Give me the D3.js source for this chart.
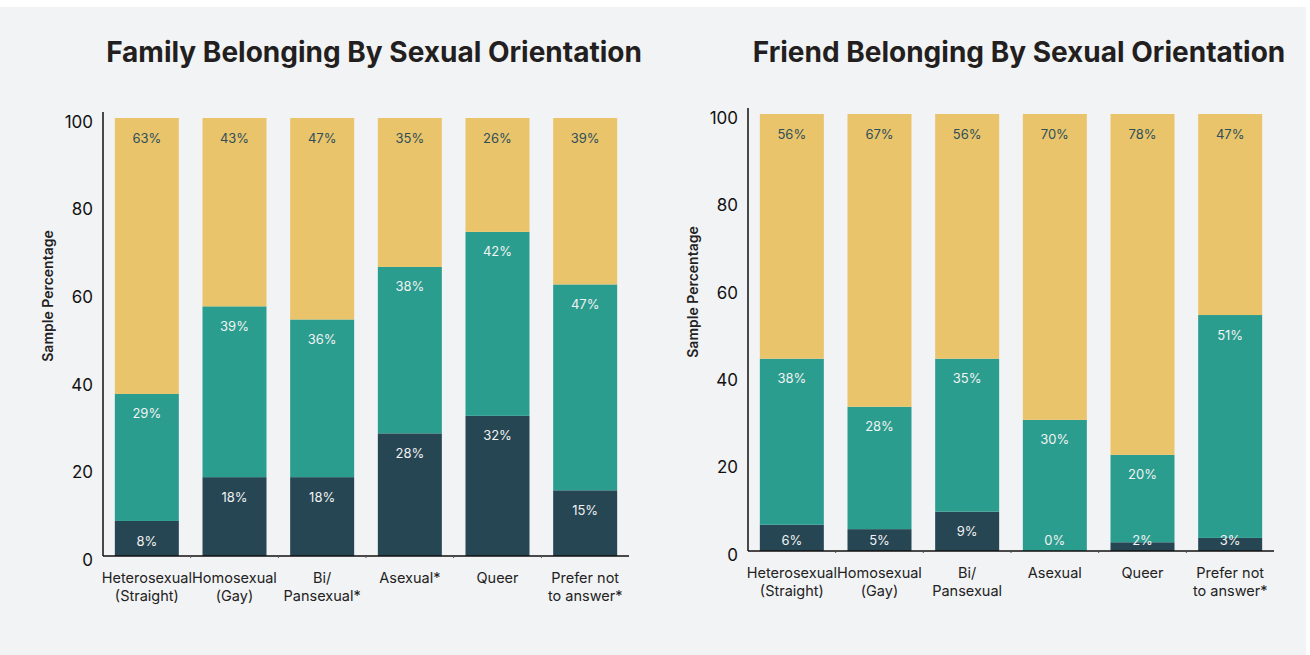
<!DOCTYPE html>
<html>
<head>
<meta charset="utf-8">
<script src="https://cdn.jsdelivr.net/npm/d3@7"></script>
<style>
  body { margin: 0; background: #fff; }
  svg { display: block; font-family: "Inter", "Lato", sans-serif; }
</style>
</head>
<body>
<svg id="chart" width="1310" height="655"></svg>
<script>
(function () {
  // Categories and values.
  let familyCats = ["Heterosexual\n(Straight)", "Homosexual\n(Gay)", "Bi/\nPansexual*", "Asexual*", "Queer", "Prefer not\nto answer*"];
  let familyLow = [8, 18, 18, 28, 32, 15];
  let familyMid = [29, 39, 36, 38, 42, 47];
  let familyHigh = [63, 43, 47, 35, 26, 39];

  let friendCats = ["Heterosexual\n(Straight)", "Homosexual\n(Gay)", "Bi/\nPansexual", "Asexual", "Queer", "Prefer not\nto answer*"];
  let friendLow = [6, 5, 9, 0, 2, 3];
  let friendMid = [38, 28, 35, 30, 20, 51];
  let friendHigh = [56, 67, 56, 70, 78, 47];

  let yTicks = [0, 20, 40, 60, 80, 100];
  let colors = ["#264653", "#2a9d8f", "#e9c46a"];

  let svg = d3.select("#chart");
  svg.append("rect").attr("x", 0).attr("y", 7).attr("width", 1306).attr("height", 648).attr("fill", "#f2f3f5");

  function stackedChart(opts) {
    let g = svg.append("g");
    let x = d3.scaleBand().domain(opts.cats).range([opts.left, opts.left + 526])
      .paddingInner(0.27).paddingOuter(0.135);
    let y = d3.scaleLinear().domain([0, 100]).range([opts.bottom, opts.top]).clamp(true);

    let rows = opts.cats.map((c, i) => ({ cat: c, low: opts.low[i], mid: opts.mid[i], high: opts.high[i] }));
    let series = d3.stack().keys(["low", "mid", "high"])(rows);

    // Title
    g.append("text")
      .attr("x", opts.left + 271).attr("y", 62)
      .attr("text-anchor", "middle")
      .attr("font-size", 28).attr("font-weight", 700)
      .attr("fill", "#231f20")
      .text(opts.title);

    // Bars
    series.forEach((s, k) => {
      g.append("g").selectAll("rect").data(s).enter().append("rect")
        .attr("x", (d) => x(d.data.cat))
        .attr("width", x.bandwidth())
        .attr("y", (d) => y(d[1]))
        .attr("height", (d) => y(d[0]) - y(d[1]))
        .attr("fill", colors[k]);
    });

    // Segment labels on top of all bars
    series.forEach((s, k) => {
      g.append("g").selectAll("text").data(s).enter().append("text")
        .attr("x", (d) => x(d.data.cat) + x.bandwidth() / 2)
        .attr("y", (d) => Math.min(y(d[1]) + 20, opts.bottom - 11))
        .attr("dy", "0.35em")
        .attr("text-anchor", "middle")
        .attr("font-size", 13)
        .attr("fill", k === 2 ? "#2f4f5a" : "#f2f2f2")
        .text((d) => `${d[1] - d[0]}%`);
    });

    // Y axis
    let yAxis = d3.axisLeft(y).tickValues(yTicks).tickSize(0).tickPadding(10);
    let ya = g.append("g").attr("transform", `translate(${opts.left},0)`).call(yAxis);
    ya.select(".domain").remove();
    ya.selectAll("text").attr("font-size", 17).attr("fill", "#111").attr("font-family", "Inter, sans-serif")
      .attr("dy", "0.55em");
    g.append("line")
      .attr("x1", opts.left).attr("x2", opts.left)
      .attr("y1", opts.top - 6).attr("y2", opts.bottom)
      .attr("stroke", "#111").attr("stroke-width", 1.5);

    // X axis
    g.append("line")
      .attr("x1", opts.left).attr("x2", opts.left + 526)
      .attr("y1", opts.bottom).attr("y2", opts.bottom)
      .attr("stroke", "#111").attr("stroke-width", 1.5);
    // small ticks between bars
    g.append("g").selectAll("line").data(opts.cats.slice(1)).enter().append("line")
      .attr("x1", (d) => x(d) - x.step() * x.paddingInner() / 2)
      .attr("x2", (d) => x(d) - x.step() * x.paddingInner() / 2)
      .attr("y1", opts.bottom).attr("y2", opts.bottom + 2)
      .attr("stroke", "#555").attr("stroke-width", 1);

    let labels = g.append("g").selectAll("text").data(opts.cats).enter().append("text")
      .attr("x", (d) => x(d) + x.bandwidth() / 2)
      .attr("y", opts.bottom + 27)
      .attr("text-anchor", "middle")
      .attr("font-size", 14.5)
      .attr("fill", "#222");
    labels.each(function (d) {
      let t = d3.select(this);
      d.split("\n").forEach((line, i) => {
        t.append("tspan").attr("x", x(d) + x.bandwidth() / 2).attr("dy", i === 0 ? 0 : 18).text(line);
      });
    });

    // Y label
    g.append("text")
      .attr("transform", `translate(${opts.left - 55},${opts.top + 178}) rotate(-90)`)
      .attr("dy", "0.35em")
      .attr("text-anchor", "middle")
      .attr("font-size", 14).attr("font-weight", 600)
      .attr("fill", "#222")
      .text("Sample Percentage");
  }

  stackedChart({
    title: "Family Belonging By Sexual Orientation",
    cats: familyCats, low: familyLow, mid: familyMid, high: familyHigh,
    left: 103, top: 118, bottom: 556,
  });
  stackedChart({
    title: "Friend Belonging By Sexual Orientation",
    cats: friendCats, low: friendLow, mid: friendMid, high: friendHigh,
    left: 748, top: 114, bottom: 551,
  });
})();
</script>
</body>
</html>
